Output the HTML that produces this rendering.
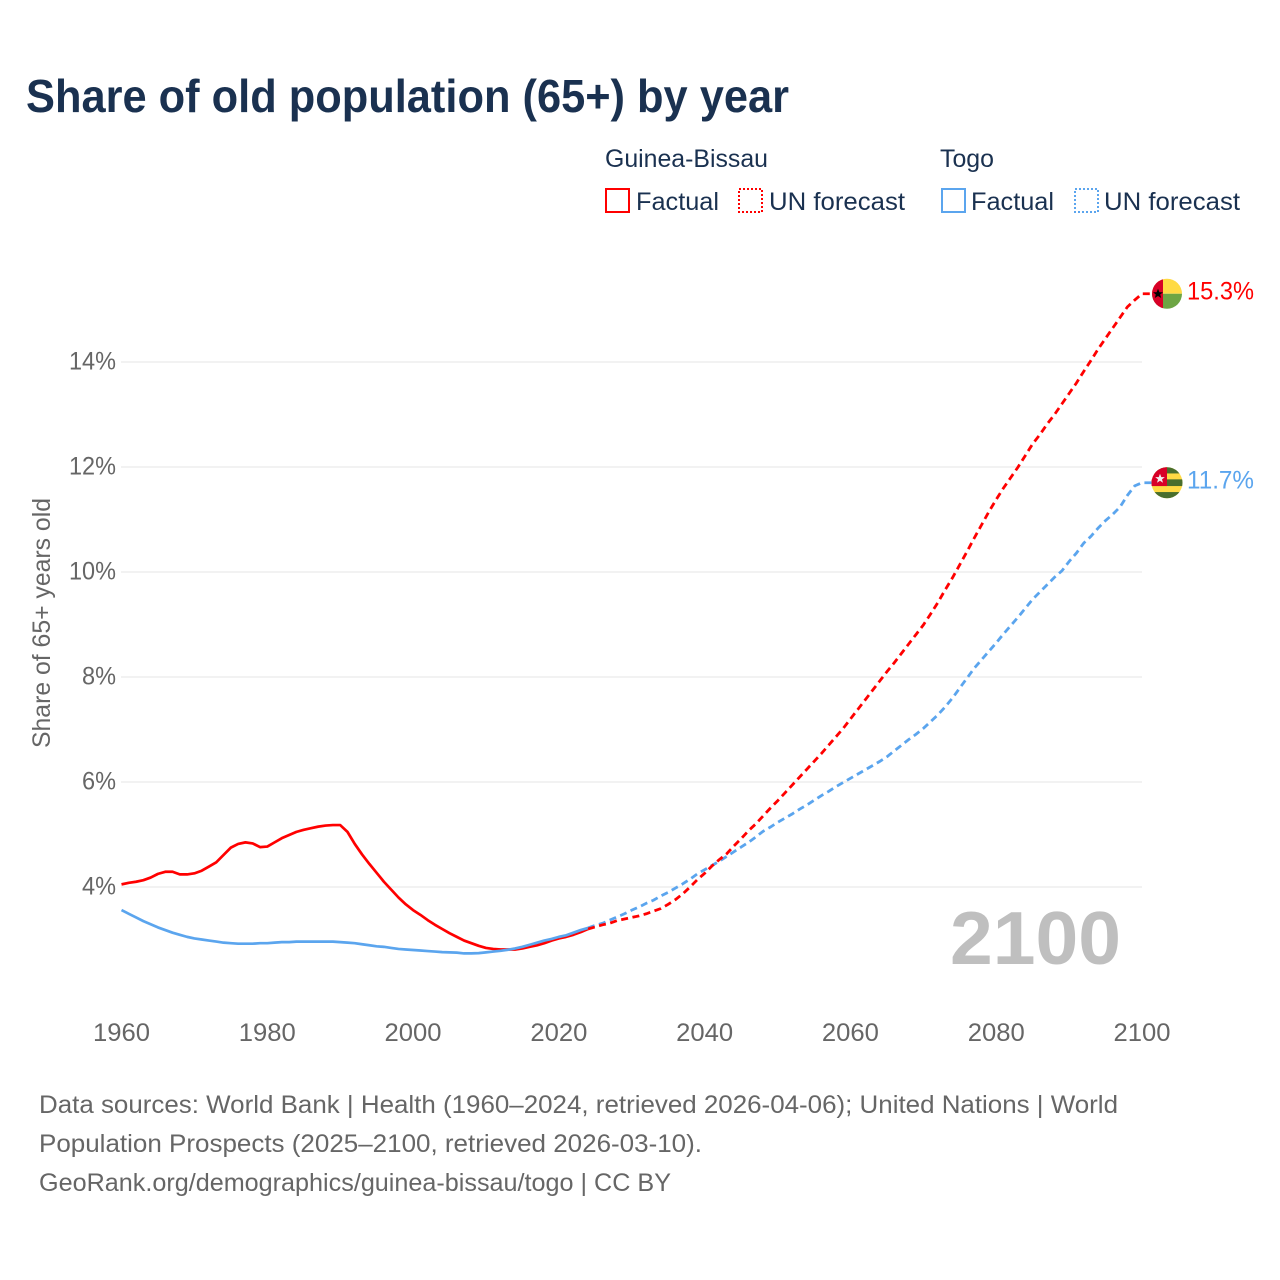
<!DOCTYPE html>
<html lang="en">
<head>
<meta charset="utf-8">
<title>Share of old population (65+) by year</title>
<style>
html,body{margin:0;padding:0;background:#fff;width:1280px;height:1280px;overflow:hidden}
svg{display:block}
text{font-family:"Liberation Sans",Arial,sans-serif}
.tick{font-size:25px;fill:#666}
.leg{font-size:25px;fill:#1a3150}
.foot{font-size:25px;fill:#666}
</style>
</head>
<body>
<svg id="chart" width="1280" height="1280" viewBox="0 0 1280 1280" xmlns="http://www.w3.org/2000/svg">
  <text x="26" y="112" font-size="46" font-weight="700" fill="#1a3150" textLength="763" lengthAdjust="spacingAndGlyphs">Share of old population (65+) by year</text>

  <g>
    <text class="leg" x="605" y="167" textLength="163" lengthAdjust="spacingAndGlyphs">Guinea-Bissau</text>
    <text class="leg" x="940" y="167" textLength="54" lengthAdjust="spacingAndGlyphs">Togo</text>
    <g>
      <rect x="606" y="189" width="23" height="23" fill="none" stroke="#ff0000" stroke-width="2"/>
      <text class="leg" x="636" y="210" textLength="83" lengthAdjust="spacingAndGlyphs">Factual</text>
    </g>
    <g>
      <rect x="739" y="189" width="23" height="23" fill="none" stroke="#ff0000" stroke-width="2" stroke-dasharray="2 2"/>
      <text class="leg" x="769" y="210" textLength="136" lengthAdjust="spacingAndGlyphs">UN forecast</text>
    </g>
    <g>
      <rect x="942" y="189" width="23" height="23" fill="none" stroke="#5ba5ee" stroke-width="2"/>
      <text class="leg" x="971" y="210" textLength="83" lengthAdjust="spacingAndGlyphs">Factual</text>
    </g>
    <g>
      <rect x="1075" y="189" width="23" height="23" fill="none" stroke="#5ba5ee" stroke-width="2" stroke-dasharray="2 2"/>
      <text class="leg" x="1104" y="210" textLength="136" lengthAdjust="spacingAndGlyphs">UN forecast</text>
    </g>
  </g>

  <text transform="translate(50 748) rotate(-90)" x="0" y="0" font-size="25" fill="#666" textLength="250" lengthAdjust="spacingAndGlyphs">Share of 65+ years old</text>

  <g id="grid"></g>
  <g id="yticks"></g>
  <g id="xticks"></g>

  <text x="950" y="964" font-size="75" font-weight="700" fill="#bfbfbf" textLength="171" lengthAdjust="spacingAndGlyphs">2100</text>

  <g id="series"></g>

  <defs>
    <clipPath id="gw-clip"><circle cx="0" cy="0" r="15"/></clipPath>
    <clipPath id="tg-clip"><circle cx="0" cy="0" r="15.5"/></clipPath>
  </defs>
  <g id="flag-gw">
    <g clip-path="url(#gw-clip)">
      <rect x="-15" y="-16" width="31" height="16" fill="#ffda44"/>
      <rect x="-15" y="0" width="31" height="16" fill="#6da544"/>
      <rect x="-16" y="-16" width="12" height="32" fill="#d80027"/>
      <polygon points="-9,-5 -7.6,-1.5 -4,-1.5 -6.8,0.7 -5.8,4.3 -9,2.2 -12.2,4.3 -11.2,0.7 -14,-1.5 -10.4,-1.5" fill="#000"/>
    </g>
  </g>
  <g id="flag-tg">
    <g clip-path="url(#tg-clip)">
      <rect x="-16" y="-16" width="32" height="32" fill="#ffda44"/>
      <rect x="-16" y="-16" width="32" height="6.7" fill="#496e2d"/>
      <rect x="-16" y="-3.4" width="32" height="6.7" fill="#496e2d"/>
      <rect x="-16" y="9.3" width="32" height="7" fill="#496e2d"/>
      <rect x="-16" y="-16" width="16" height="19.3" fill="#d80027"/>
      <polygon points="-7,-9 -5.7,-5.6 -2.2,-5.6 -5,-3.4 -4,0 -7,-2 -10,0 -9,-3.4 -11.8,-5.6 -8.3,-5.6" fill="#f0f0f0"/>
    </g>
  </g>
  <g id="endlabels"></g>

  <g>
    <text class="foot" x="39" y="1113" textLength="1079" lengthAdjust="spacingAndGlyphs">Data sources: World Bank | Health (1960–2024, retrieved 2026-04-06); United Nations | World</text>
    <text class="foot" x="39" y="1152" textLength="663" lengthAdjust="spacingAndGlyphs">Population Prospects (2025–2100, retrieved 2026-03-10).</text>
    <text class="foot" x="39" y="1191" textLength="632" lengthAdjust="spacingAndGlyphs">GeoRank.org/demographics/guinea-bissau/togo | CC BY</text>
  </g>
</svg>
<script>
var yTickValues = [4, 6, 8, 10, 12, 14];
var xTickYears = [1960, 1980, 2000, 2020, 2040, 2060, 2080, 2100];
var factualStartYear = 1960;
var forecastStartYear = 2024;
var gwFactual = [4.05,4.08,4.10,4.13,4.18,4.25,4.29,4.29,4.24,4.24,4.26,4.31,4.39,4.47,4.61,4.75,4.82,4.85,4.83,4.76,4.77,4.85,4.93,4.99,5.05,5.09,5.12,5.15,5.17,5.18,5.18,5.05,4.82,4.62,4.44,4.27,4.10,3.95,3.80,3.67,3.56,3.47,3.37,3.28,3.20,3.12,3.05,2.98,2.93,2.88,2.84,2.82,2.81,2.81,2.81,2.83,2.86,2.89,2.93,2.98,3.02,3.05,3.09,3.14,3.20];
var gwForecast = [3.20,3.24,3.28,3.31,3.36,3.39,3.42,3.45,3.49,3.54,3.59,3.67,3.76,3.87,4.00,4.14,4.26,4.40,4.52,4.63,4.78,4.92,5.07,5.20,5.35,5.50,5.64,5.79,5.94,6.09,6.24,6.39,6.54,6.70,6.86,7.02,7.20,7.38,7.56,7.74,7.92,8.10,8.27,8.45,8.63,8.81,8.99,9.20,9.42,9.66,9.89,10.14,10.39,10.65,10.90,11.15,11.38,11.60,11.80,12.00,12.22,12.44,12.62,12.82,13.00,13.20,13.40,13.60,13.82,14.03,14.25,14.45,14.65,14.85,15.05,15.18,15.30];
var tgFactual = [3.56,3.49,3.42,3.35,3.29,3.23,3.18,3.13,3.09,3.05,3.02,3.00,2.98,2.96,2.94,2.93,2.92,2.92,2.92,2.93,2.93,2.94,2.95,2.95,2.96,2.96,2.96,2.96,2.96,2.96,2.95,2.94,2.93,2.91,2.89,2.87,2.86,2.84,2.82,2.81,2.80,2.79,2.78,2.77,2.76,2.755,2.75,2.735,2.735,2.74,2.755,2.77,2.785,2.805,2.83,2.86,2.90,2.94,2.98,3.01,3.05,3.08,3.13,3.18,3.22];
var tgForecast = [3.22,3.27,3.31,3.37,3.43,3.49,3.56,3.62,3.69,3.75,3.83,3.90,3.98,4.06,4.15,4.25,4.33,4.41,4.49,4.58,4.67,4.76,4.85,4.95,5.06,5.14,5.23,5.31,5.39,5.48,5.56,5.65,5.74,5.82,5.91,5.99,6.07,6.15,6.23,6.31,6.39,6.48,6.59,6.70,6.81,6.91,7.02,7.15,7.28,7.43,7.60,7.79,7.98,8.17,8.33,8.49,8.65,8.82,8.98,9.14,9.31,9.48,9.62,9.76,9.90,10.02,10.20,10.36,10.55,10.68,10.84,10.98,11.10,11.24,11.46,11.64,11.70];
var gwEndLabel = "15.3%";
var tgEndLabel = "11.7%";

var NS = "http://www.w3.org/2000/svg";
var RED = "#ff0000", BLUE = "#5ba5ee";
var FLAG_X = 1167;

function xScale(year) { return 121.5 + (year - 1960) * (1142 - 121.5) / 140; }
function yScale(v) { return 887 - (v - 4) * 52.5; }

function svgEl(tag, attrs, parentId) {
  var el = document.createElementNS(NS, tag);
  for (var k in attrs) el.setAttribute(k, attrs[k]);
  document.getElementById(parentId).appendChild(el);
  return el;
}

function seriesPath(values, startYear, extraX) {
  var pts = values.map(function (v, i) {
    return xScale(startYear + i).toFixed(2) + "," + yScale(v).toFixed(2);
  });
  if (extraX) pts.push(extraX + "," + yScale(values[values.length - 1]).toFixed(2));
  return "M" + pts.join("L");
}

yTickValues.forEach(function (v) {
  var line = svgEl("line", { x1: 121, x2: 1142, y1: yScale(v), y2: yScale(v), stroke: "#eeeeee", "stroke-width": 1.5 }, "grid");
  
  
  var t = svgEl("text", { x: 116, y: yScale(v) + 7.5, "text-anchor": "end", "class": "tick", textLength: String(v).length > 1 ? 47 : 34, lengthAdjust: "spacingAndGlyphs" }, "yticks");
  
  
  t.textContent = v + "%";
});

xTickYears.forEach(function (yr) {
  var t = svgEl("text", { x: xScale(yr), y: 1041, "text-anchor": "middle", "class": "tick", textLength: 57, lengthAdjust: "spacingAndGlyphs" }, "xticks");
  
  
  t.textContent = yr;
});

var lineGwFact = svgEl("path", { d: seriesPath(gwFactual, factualStartYear), fill: "none", stroke: RED, "stroke-width": 2.7, "stroke-linejoin": "round" }, "series");



var lineTgFact = svgEl("path", { d: seriesPath(tgFactual, factualStartYear), fill: "none", stroke: BLUE, "stroke-width": 2.7, "stroke-linejoin": "round" }, "series");



var lineTgFore = svgEl("path", { d: seriesPath(tgForecast, forecastStartYear, FLAG_X - 14), fill: "none", stroke: BLUE, "stroke-width": 2.8, "stroke-dasharray": "7 4.5" }, "series");



var lineGwFore = svgEl("path", { d: seriesPath(gwForecast, forecastStartYear, FLAG_X - 14), fill: "none", stroke: RED, "stroke-width": 2.8, "stroke-dasharray": "7 4.5" }, "series");



var gwEndY = yScale(gwForecast[gwForecast.length - 1]);
var tgEndY = yScale(tgForecast[tgForecast.length - 1]);
document.getElementById("flag-gw").setAttribute("transform", "translate(" + FLAG_X + " " + gwEndY + ")");
document.getElementById("flag-tg").setAttribute("transform", "translate(" + FLAG_X + " " + tgEndY + ")");

var lblGw = svgEl("text", { x: 1187, y: gwEndY + 5.5, "font-size": 25, fill: RED, textLength: 67, lengthAdjust: "spacingAndGlyphs" }, "endlabels");


lblGw.textContent = gwEndLabel;

var lblTg = svgEl("text", { x: 1187, y: tgEndY + 5.5, "font-size": 25, fill: BLUE, textLength: 67, lengthAdjust: "spacingAndGlyphs" }, "endlabels");


lblTg.textContent = tgEndLabel;
</script>
</body>
</html>
